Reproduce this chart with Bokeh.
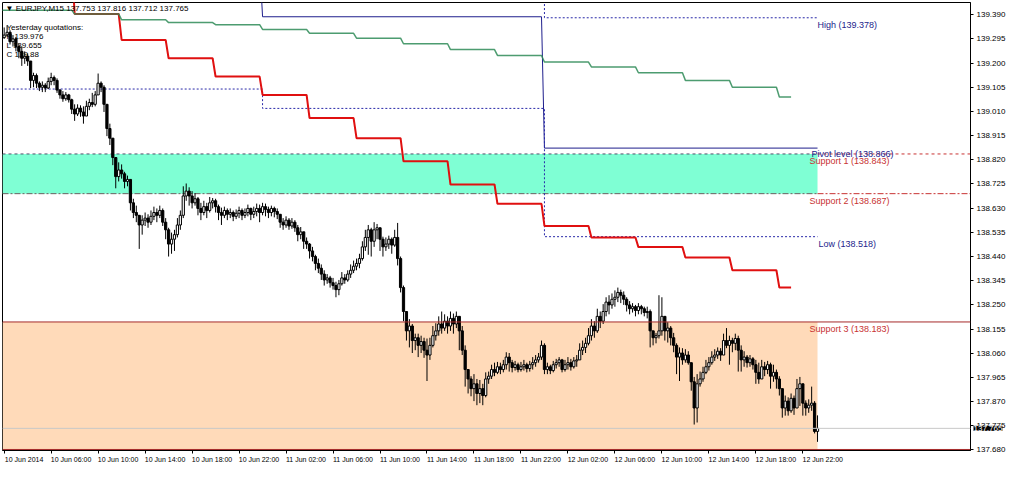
from bokeh.plotting import figure
from bokeh.models import (Range1d, Label, Span, BoxAnnotation, FixedTicker,
                          PrintfTickFormatter, ColumnDataSource)
from bokeh.embed import file_html
from bokeh.resources import INLINE

# ---------------- data ----------------
symbol = "EURJPY,M15"
start_hour = 2.0          # first bar: 10 Jun 2014 02:00 (hours from 10 Jun 00:00)
bar_hours = 0.25          # M15
first_open = 139.300

closes = [
    139.310, 139.321, 139.284, 139.295, 139.265, 139.246, 139.219, 139.227, 139.208, 139.132, 139.151, 139.121, 139.105, 139.113, 139.102, 139.128,
    139.143, 139.132, 139.094, 139.075, 139.060, 139.075, 139.056, 139.019, 139.000, 139.023, 139.008, 138.992, 139.030, 139.045, 139.038, 139.075,
    139.121, 139.105, 139.038, 138.943, 138.905, 138.829, 138.754, 138.780, 138.765, 138.735, 138.743, 138.651, 138.613, 138.602, 138.564, 138.583,
    138.591, 138.575, 138.598, 138.613, 138.602, 138.621, 138.575, 138.545, 138.489, 138.508, 138.526, 138.564, 138.602, 138.678, 138.697, 138.678,
    138.651, 138.667, 138.629, 138.613, 138.636, 138.621, 138.651, 138.659, 138.636, 138.613, 138.602, 138.621, 138.606, 138.613, 138.598, 138.610,
    138.621, 138.602, 138.613, 138.629, 138.606, 138.617, 138.629, 138.613, 138.636, 138.625, 138.613, 138.629, 138.617, 138.606, 138.575, 138.564,
    138.583, 138.560, 138.575, 138.553, 138.526, 138.537, 138.500, 138.489, 138.462, 138.440, 138.413, 138.394, 138.371, 138.348, 138.356, 138.337,
    138.326, 138.310, 138.333, 138.356, 138.348, 138.371, 138.386, 138.402, 138.413, 138.432, 138.478, 138.515, 138.545, 138.500, 138.545, 138.553,
    138.508, 138.478, 138.489, 138.508, 138.485, 138.515, 138.432, 138.318, 138.224, 138.148, 138.167, 138.110, 138.121, 138.091, 138.106, 138.072,
    138.053, 138.091, 138.129, 138.148, 138.175, 138.159, 138.186, 138.167, 138.197, 138.175, 138.205, 138.148, 138.072, 137.996, 137.959, 137.921,
    137.940, 137.902, 137.921, 137.894, 137.959, 137.970, 137.996, 137.985, 138.007, 137.996, 138.015, 138.045, 138.023, 138.004, 138.015, 137.996,
    138.007, 138.015, 138.000, 138.015, 138.023, 138.034, 138.045, 138.091, 137.996, 138.007, 137.992, 138.015, 138.023, 138.034, 137.996, 138.015,
    138.023, 138.007, 138.030, 138.034, 138.072, 138.083, 138.099, 138.129, 138.167, 138.148, 138.205, 138.186, 138.224, 138.261, 138.250, 138.272,
    138.280, 138.299, 138.288, 138.272, 138.250, 138.235, 138.243, 138.228, 138.243, 138.235, 138.220, 138.224, 138.148, 138.121, 138.129, 138.148,
    138.205, 138.148, 138.159, 138.121, 138.091, 138.045, 138.061, 138.034, 138.053, 138.023, 137.948, 137.845, 137.940, 137.959, 137.985, 138.007,
    138.023, 138.045, 138.053, 138.068, 138.053, 138.110, 138.091, 138.110, 138.099, 138.118, 138.072, 138.034, 138.045, 138.023, 138.038, 138.015,
    137.985, 137.959, 138.007, 137.996, 138.015, 137.970, 137.985, 137.959, 137.921, 137.845, 137.872, 137.834, 137.883, 137.845, 137.921, 137.940,
    137.864, 137.845, 137.856, 137.864, 137.753, 137.765,
]
highs = [
    139.340, 139.348, 139.329, 139.310, 139.303, 139.276, 139.265, 139.246, 139.238, 139.204, 139.162, 139.159, 139.128, 139.128, 139.121, 139.143,
    139.162, 139.151, 139.140, 139.098, 139.090, 139.086, 139.079, 139.060, 139.038, 139.038, 139.034, 139.030, 139.052, 139.060, 139.083, 139.090,
    139.159, 139.128, 139.113, 139.038, 138.962, 138.905, 138.829, 138.810, 138.802, 138.773, 138.758, 138.743, 138.667, 138.640, 138.598, 138.602,
    138.613, 138.606, 138.621, 138.636, 138.629, 138.640, 138.629, 138.591, 138.553, 138.534, 138.545, 138.591, 138.621, 138.716, 138.727, 138.712,
    138.697, 138.689, 138.674, 138.651, 138.659, 138.651, 138.674, 138.670, 138.667, 138.644, 138.632, 138.636, 138.629, 138.629, 138.621, 138.625,
    138.636, 138.629, 138.629, 138.644, 138.632, 138.636, 138.648, 138.644, 138.651, 138.648, 138.636, 138.640, 138.636, 138.629, 138.598, 138.591,
    138.598, 138.591, 138.591, 138.583, 138.564, 138.556, 138.530, 138.515, 138.493, 138.478, 138.447, 138.432, 138.409, 138.386, 138.371, 138.364,
    138.356, 138.341, 138.348, 138.379, 138.371, 138.386, 138.409, 138.424, 138.432, 138.451, 138.500, 138.545, 138.564, 138.553, 138.575, 138.568,
    138.545, 138.518, 138.515, 138.522, 138.515, 138.545, 138.572, 138.440, 138.326, 138.224, 138.194, 138.175, 138.137, 138.137, 138.129, 138.121,
    138.118, 138.121, 138.167, 138.178, 138.205, 138.224, 138.213, 138.205, 138.224, 138.216, 138.224, 138.205, 138.167, 138.091, 137.996, 137.970,
    137.978, 137.959, 137.955, 137.940, 137.985, 137.988, 138.015, 138.023, 138.026, 138.023, 138.034, 138.064, 138.061, 138.034, 138.030, 138.023,
    138.026, 138.034, 138.023, 138.030, 138.045, 138.053, 138.061, 138.110, 138.099, 138.023, 138.015, 138.030, 138.038, 138.045, 138.038, 138.034,
    138.045, 138.038, 138.045, 138.053, 138.099, 138.110, 138.121, 138.159, 138.194, 138.186, 138.235, 138.224, 138.253, 138.280, 138.288, 138.295,
    138.307, 138.318, 138.310, 138.303, 138.280, 138.265, 138.257, 138.250, 138.257, 138.250, 138.243, 138.243, 138.232, 138.148, 138.140, 138.288,
    138.280, 138.175, 138.182, 138.167, 138.140, 138.099, 138.083, 138.080, 138.076, 138.068, 138.023, 137.967, 137.978, 137.988, 138.007, 138.034,
    138.045, 138.068, 138.076, 138.083, 138.080, 138.137, 138.159, 138.129, 138.121, 138.137, 138.129, 138.091, 138.068, 138.053, 138.053, 138.045,
    138.034, 138.023, 138.034, 138.026, 138.030, 138.023, 138.015, 137.996, 137.970, 137.921, 137.894, 137.887, 137.902, 137.894, 137.959, 137.967,
    137.902, 137.875, 137.879, 137.929, 137.872, 137.816,
]
lows = [
    139.295, 139.303, 139.273, 139.265, 139.246, 139.219, 139.189, 139.197, 139.189, 139.102, 139.105, 139.102, 139.090, 139.086, 139.086, 139.098,
    139.113, 139.113, 139.083, 139.060, 139.048, 139.052, 139.045, 139.000, 138.973, 138.992, 138.989, 138.962, 139.008, 139.015, 139.027, 139.030,
    139.083, 139.086, 139.008, 138.913, 138.878, 138.799, 138.708, 138.735, 138.746, 138.708, 138.716, 138.621, 138.591, 138.575, 138.470, 138.526,
    138.560, 138.553, 138.564, 138.583, 138.575, 138.591, 138.560, 138.508, 138.440, 138.451, 138.462, 138.515, 138.545, 138.591, 138.659, 138.640,
    138.629, 138.640, 138.602, 138.583, 138.602, 138.591, 138.613, 138.629, 138.613, 138.583, 138.564, 138.591, 138.583, 138.591, 138.579, 138.587,
    138.591, 138.583, 138.591, 138.598, 138.583, 138.591, 138.598, 138.575, 138.602, 138.598, 138.591, 138.598, 138.594, 138.587, 138.553, 138.545,
    138.553, 138.545, 138.549, 138.537, 138.500, 138.508, 138.470, 138.470, 138.432, 138.421, 138.386, 138.375, 138.348, 138.326, 138.333, 138.318,
    138.310, 138.280, 138.288, 138.326, 138.333, 138.341, 138.356, 138.375, 138.386, 138.394, 138.424, 138.462, 138.447, 138.440, 138.478, 138.508,
    138.462, 138.440, 138.462, 138.470, 138.451, 138.478, 138.405, 138.299, 138.186, 138.110, 138.083, 138.061, 138.072, 138.045, 138.061, 138.042,
    137.951, 138.034, 138.083, 138.110, 138.129, 138.137, 138.148, 138.137, 138.148, 138.137, 138.159, 138.072, 138.053, 137.929, 137.902, 137.891,
    137.872, 137.856, 137.864, 137.856, 137.887, 137.940, 137.959, 137.970, 137.978, 137.978, 137.985, 137.996, 137.988, 137.985, 137.992, 137.985,
    137.988, 137.992, 137.985, 137.988, 137.996, 138.007, 138.023, 138.034, 137.978, 137.978, 137.978, 137.985, 138.000, 138.007, 137.985, 137.988,
    137.996, 137.992, 138.000, 138.007, 138.045, 138.053, 138.061, 138.091, 138.110, 138.121, 138.140, 138.159, 138.175, 138.205, 138.213, 138.235,
    138.243, 138.261, 138.257, 138.250, 138.224, 138.213, 138.220, 138.205, 138.213, 138.213, 138.205, 138.197, 138.083, 138.091, 138.099, 138.118,
    138.129, 138.110, 138.102, 138.091, 138.064, 137.978, 137.951, 138.015, 138.023, 138.015, 137.913, 137.780, 137.788, 137.929, 137.948, 137.978,
    137.992, 138.015, 138.030, 138.038, 138.030, 138.061, 138.080, 138.015, 138.064, 138.072, 137.988, 137.988, 138.007, 138.004, 138.007, 137.996,
    137.940, 137.940, 137.978, 137.970, 137.978, 137.921, 137.948, 137.921, 137.894, 137.807, 137.815, 137.815, 137.826, 137.818, 137.872, 137.853,
    137.815, 137.815, 137.826, 137.834, 137.745, 137.712,
]

# 4-hour indicator levels (green / red step lines)
period_starts = [0, 8, 12, 16, 20, 24, 28, 32, 36, 40, 44, 48, 52, 56, 60, 64, 68]
green_levels = [139.408, 139.393, 139.370, 139.359, 139.351, 139.332, 139.317, 139.298, 139.276,
                139.253, 139.230, 139.204, 139.185, 139.162, 139.132, 139.105, 139.067]
red_levels = [139.600, 139.393, 139.291, 139.219, 139.147, 139.075, 138.984, 138.905, 138.814,
              138.723, 138.647, 138.560, 138.515, 138.477, 138.436, 138.386, 138.318]
indicator_end = 69.0

# daily levels
day_starts = [0, 24, 48]
pivot_levels = [139.600, 139.382, 138.866]
high_levels = [139.700, 139.650, 139.378]
low_levels = [139.098, 139.022, 138.518]
support1 = 138.843
support2 = 138.687
support3 = 138.183
bottom_line = 137.682

yesterday = ["Yesterday quotations:", "H 139.976", "L 139.655", "C 139.88"]

tick_hours = [2, 6, 10, 14, 18, 22, 26, 30, 34, 38, 42, 46, 50, 54, 58, 62, 66, 70]
tick_labels = ["10 Jun 2014", "10 Jun 06:00", "10 Jun 10:00", "10 Jun 14:00", "10 Jun 18:00",
               "10 Jun 22:00", "11 Jun 02:00", "11 Jun 06:00", "11 Jun 10:00", "11 Jun 14:00",
               "11 Jun 18:00", "11 Jun 22:00", "12 Jun 02:00", "12 Jun 06:00", "12 Jun 10:00",
               "12 Jun 14:00", "12 Jun 18:00", "12 Jun 22:00"]
price_ticks = [137.680, 137.775, 137.870, 137.965, 138.060, 138.155, 138.250, 138.345, 138.440,
               138.535, 138.630, 138.725, 138.820, 138.915, 139.010, 139.105, 139.200, 139.295, 139.390]

x_lo, x_hi = 1.858, 84.275
y_lo, y_hi = 137.678, 139.438

# ---------------- layout (pixels) ----------------
W, H = 1008, 470
B_LEFT, B_RIGHT, B_TOP, B_BOTTOM = 2, 35, 2, 14
FRAME_W = W - B_LEFT - B_RIGHT
hours_per_px = (x_hi - x_lo) / FRAME_W
label_shift = 20 * hours_per_px     # MT4 time labels start at their tick

# ---------------- derived ----------------
n = len(closes)
assert len(highs) == n and len(lows) == n, (n, len(highs), len(lows))
t = [start_hour + bar_hours * i for i in range(n)]
opens = [first_open] + closes[:-1]
hi = [max(h, o, c) for h, o, c in zip(highs, opens, closes)]
lo = [min(l, o, c) for l, o, c in zip(lows, opens, closes)]
t_end = t[-1]
last_close = closes[-1]

bull_idx = [i for i in range(n) if closes[i] >= opens[i]]
bear_idx = [i for i in range(n) if closes[i] < opens[i]]
bull = ColumnDataSource(dict(t=[t[i] for i in bull_idx], o=[opens[i] for i in bull_idx],
                             c=[closes[i] for i in bull_idx]))
bear = ColumnDataSource(dict(t=[t[i] for i in bear_idx], o=[opens[i] for i in bear_idx],
                             c=[closes[i] for i in bear_idx]))
wicks = ColumnDataSource(dict(t=t, h=hi, l=lo))


def step_points(starts, levels, end, ramp):
    xs, ys = [], []
    for k, v in enumerate(levels):
        e = starts[k + 1] - ramp if k + 1 < len(starts) else end
        xs += [starts[k], e]
        ys += [v, v]
    return xs, ys


FONT = "Liberation Sans"

p = figure(width=W, height=H, x_range=Range1d(x_lo, x_hi), y_range=Range1d(y_lo, y_hi),
           y_axis_location="right", output_backend="svg", toolbar_location=None,
           min_border_left=B_LEFT, min_border_right=B_RIGHT, min_border_top=B_TOP,
           min_border_bottom=B_BOTTOM, background_fill_color="white", border_fill_color="white")
p.grid.visible = False
p.outline_line_color = "black"
p.outline_line_width = 1

# bands
p.add_layout(BoxAnnotation(right=t_end, top=support1, bottom=support2, fill_color="#7fffd4",
                           fill_alpha=1.0, line_color=None, level="underlay"))
p.add_layout(BoxAnnotation(right=t_end, top=support3, bottom=y_lo - 1, fill_color="#ffdab9",
                           fill_alpha=1.0, line_color=None, level="underlay"))

# horizontal levels
p.segment(x0=[x_lo, t_end], y0=[support1, support1], x1=[t_end, x_hi], y1=[support1, support1],
          line_color=["#50506a", "#c83232"], line_width=1, line_dash="3 3")
p.segment(x0=[x_lo, t_end], y0=[support2, support2], x1=[t_end, x_hi], y1=[support2, support2],
          line_color=["#6a6060", "#c83232"], line_width=1, line_dash="6 2 2 2")
p.add_layout(Span(location=support3, dimension="width", line_color="#a52a2a", line_width=1))
p.add_layout(Span(location=bottom_line, dimension="width", line_color="#a52a2a", line_width=1))
p.add_layout(Span(location=last_close, dimension="width", line_color="#c8c8c8", line_width=1))

# daily pivot / high / low
xs, ys = step_points(day_starts, pivot_levels, t_end, bar_hours)
p.line(xs, ys, line_color="#1e1e8c", line_width=1)
xs, ys = step_points(day_starts, high_levels, t_end, 0)
p.line(xs, ys, line_color="#2828a8", line_width=1, line_dash="2 2")
xs, ys = step_points(day_starts, low_levels, t_end, 0)
p.line(xs, ys, line_color="#2828a8", line_width=1, line_dash="2 2")

# indicator step lines
xs, ys = step_points(period_starts, red_levels, indicator_end, bar_hours)
p.line(xs, ys, line_color="#e01010", line_width=2)
xs, ys = step_points(period_starts, green_levels, indicator_end, bar_hours)
p.line(xs, ys, line_color="#2e8b57", line_width=1.5, line_alpha=0.85)

# candles
p.segment(x0="t", y0="h", x1="t", y1="l", source=wicks, line_color="black", line_width=1)
p.vbar(x="t", top="o", bottom="c", width=0.19, source=bull, fill_color="white",
       line_color="black", line_width=1)
p.vbar(x="t", top="o", bottom="c", width=0.19, source=bear, fill_color="black",
       line_color="black", line_width=1)

# axes
yax = p.yaxis[0]
yax.ticker = FixedTicker(ticks=price_ticks)
yax.formatter = PrintfTickFormatter(format="%.3f")
yax.major_label_text_font = FONT
yax.major_label_text_font_size = "8px"
yax.major_label_text_color = "black"
yax.major_tick_out = 3
yax.major_tick_in = 0
yax.minor_tick_line_color = None
yax.axis_line_color = "black"
yax.major_label_standoff = 3

label_ticks = [h + label_shift for h in tick_hours]
xax = p.xaxis[0]
xax.ticker = FixedTicker(ticks=label_ticks, minor_ticks=tick_hours)
xax.major_label_overrides = {lt: tl for lt, tl in zip(label_ticks, tick_labels)}
xax.major_label_text_font = FONT
xax.major_label_text_font_size = "7px"
xax.major_label_text_color = "black"
xax.major_label_standoff = 2
xax.major_tick_out = 0
xax.major_tick_in = 0
xax.minor_tick_out = 3
xax.minor_tick_in = 0
xax.minor_tick_line_color = "black"
xax.axis_line_color = "black"

# level labels
navy = "#23238c"
redt = "#c83232"
p.add_layout(Label(x=t_end, y=high_levels[-1], x_offset=0, y_offset=-2,
                   text=f"High ({high_levels[-1]:.3f})", text_font=FONT, text_font_size="9px",
                   text_color=navy, text_baseline="top"))
p.add_layout(Label(x=t_end, y=pivot_levels[-1], x_offset=-6, y_offset=-1,
                   text=f"Pivot level ({pivot_levels[-1]:.3f})", text_font=FONT,
                   text_font_size="9px", text_color=navy, text_baseline="top"))
p.add_layout(Label(x=t_end, y=support1, x_offset=-8, y_offset=-2,
                   text=f"Support 1 ({support1:.3f})", text_font=FONT, text_font_size="9px",
                   text_color=redt, text_baseline="top"))
p.add_layout(Label(x=t_end, y=support2, x_offset=-8, y_offset=-2,
                   text=f"Support 2 ({support2:.3f})", text_font=FONT, text_font_size="9px",
                   text_color=redt, text_baseline="top"))
p.add_layout(Label(x=t_end, y=low_levels[-1], x_offset=1, y_offset=-2,
                   text=f"Low ({low_levels[-1]:.3f})", text_font=FONT, text_font_size="9px",
                   text_color=navy, text_baseline="top"))
p.add_layout(Label(x=t_end, y=support3, x_offset=-8, y_offset=-2,
                   text=f"Support 3 ({support3:.3f})", text_font=FONT, text_font_size="9px",
                   text_color=redt, text_baseline="top"))

# current price box on the price scale: kept in a side panel so it is not clipped
# to the frame; anchored at the right edge of the time range, at the last price.
p.add_layout(Label(x=x_hi, y=last_close, x_offset=3, text=f"{last_close:.3f}", text_font=FONT,
                   text_font_size="8px", text_color="white", background_fill_color="black",
                   text_baseline="middle", text_align="left"), "below")

# header and yesterday quotations
header = f"\u25bc {symbol}  {opens[-1]:.3f} {highs[-1]:.3f} {lows[-1]:.3f} {closes[-1]:.3f}"
p.add_layout(Label(x=x_lo, y=y_hi, x_offset=3, y_offset=-1, text=header, text_font=FONT,
                   text_font_size="8px", text_color="black", text_baseline="top"))
for k, line in enumerate(yesterday):
    p.add_layout(Label(x=x_lo, y=y_hi, x_offset=4, y_offset=-20 - 9 * k, text=line,
                       text_font=FONT, text_font_size="8px", text_color="black",
                       text_baseline="top"))

open("out.html", "w").write(file_html(p, INLINE))
